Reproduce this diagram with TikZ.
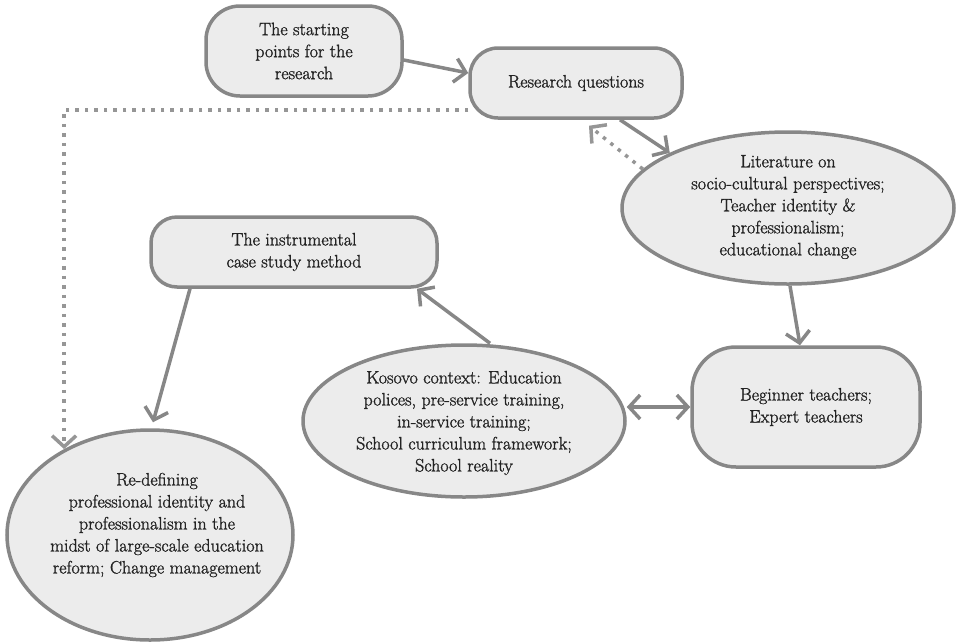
\documentclass[tikz,border=0pt]{standalone}
\usepackage{fontspec}
\setmainfont{Latin Modern Roman}[BoldFont={Latin Modern Roman}, BoldFeatures={FakeBold=1.3}]
\usetikzlibrary{arrows.meta,shapes.geometric}
\definecolor{edge}{RGB}{135,135,135}
\definecolor{dotgrey}{RGB}{150,150,150}
\definecolor{boxfill}{RGB}{236,236,236}
\definecolor{ink}{RGB}{35,35,35}
\begin{document}
\begin{tikzpicture}[x=1pt,y=-1pt,
  every node/.style={font=\fontsize{18}{22}\selectfont\bfseries, text=ink, align=center, inner sep=0pt},
  pill/.style={draw=edge, fill=boxfill, line width=3.5pt, rounded corners=#1},
  pill/.default=28pt,
  oval/.style={ellipse, draw=edge, fill=boxfill, line width=3.5pt},
  tip/.style={-{Straight Barb[length=11pt,width=24pt]}},
  link/.style={draw=edge, line width=3.5pt, tip},
  twoway/.style={draw=edge, line width=3.5pt, {Straight Barb[length=11pt,width=24pt]}-{Straight Barb[length=11pt,width=24pt]}},
  dotlink/.style={draw=dotgrey, line width=3.5pt, dash pattern=on 3.5pt off 6pt, tip}
]
\useasboundingbox (0,0) rectangle (959,641);

% nodes
\node[pill=34pt, minimum width=196pt, minimum height=90pt] (start) at (304,51)
  {The starting\\points for the\\research};
\node[pill=28pt, minimum width=212pt, minimum height=70pt] (rq) at (576,83)
  {Research questions};
\node[oval, minimum width=332pt, minimum height=152pt,
  label={[yshift=1pt]center:Literature on\\socio-cultural perspectives;\\Teacher identity \&\\professionalism;\\educational change}] (lit) at (788,208) {};
\node[pill=26pt, minimum width=286pt, minimum height=70pt] (inst) at (294,252)
  {The instrumental\\case study method};
\node[pill=44pt, minimum width=228pt, minimum height=120pt] (beg) at (806,407)
  {Beginner teachers;\\Expert teachers};
\node[oval, minimum width=322pt, minimum height=152pt,
  label={[yshift=-2pt]center:Kosovo context: Education\\polices, pre-service training,\\in-service training;\\School curriculum framework;\\School reality}] (kos) at (464,421) {};
\node[oval, minimum width=286pt, minimum height=210pt,
  label={[xshift=7pt,yshift=10pt]center:Re-defining\\professional identity and\\professionalism in the\\midst of large-scale education\\reform; Change management}] (redef) at (150,535) {};

% connectors
\draw[link] ([yshift=-9pt]start.east) -- ([yshift=10pt]rq.west);
\draw[link] ([xshift=44pt]rq.south) -- (lit.155);
\draw[dotlink] (lit.165) -- ([xshift=13pt,yshift=-6pt]rq.south);
\draw[link] ([xshift=2pt]lit.south) -- ([xshift=-6pt]beg.north);
\draw[twoway] (kos.east |- beg.west) -- (beg.west);
\draw[link] ([xshift=26pt]kos.north) -- ([xshift=123pt]inst.south);
\draw[link] ([xshift=-104pt]inst.south) -- ([xshift=3pt,yshift=6pt]redef.north);
\draw[dotlink] ([yshift=-27pt]rq.west) -| (redef.135);
\end{tikzpicture}
\end{document}
